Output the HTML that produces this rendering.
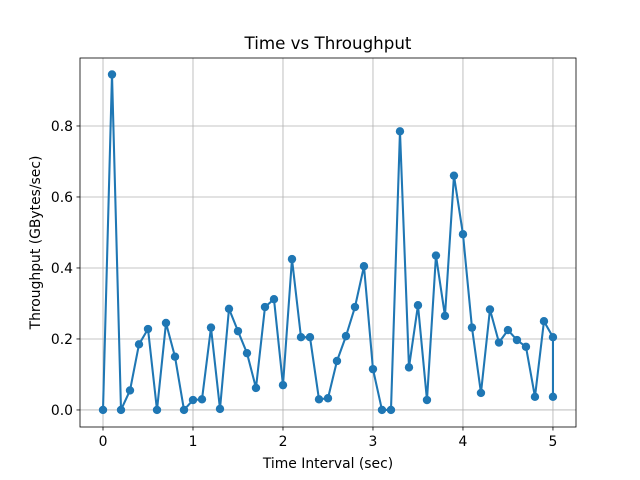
<!DOCTYPE html>
<html><head><meta charset="utf-8"><style>
body{margin:0;background:#fff;}
svg{display:block;font-family:"DejaVu Sans","Liberation Sans",sans-serif;}
</style></head><body>
<svg id="chart" width="640" height="480"></svg>
<script>
const xValues=[0,0.1,0.2,0.3,0.4,0.5,0.6,0.7,0.8,0.9,1.0,1.1,1.2,1.3,1.4,1.5,1.6,1.7,1.8,1.9,2.0,2.1,2.2,2.3,2.4,2.5,2.6,2.7,2.8,2.9,3.0,3.1,3.2,3.3,3.4,3.5,3.6,3.7,3.8,3.9,4.0,4.1,4.2,4.3,4.4,4.5,4.6,4.7,4.8,4.9,5.0,5.0];
const throughput=[0,0.945,0,0.055,0.185,0.228,0,0.245,0.15,0,0.028,0.03,0.232,0.003,0.285,0.222,0.16,0.062,0.29,0.312,0.07,0.425,0.205,0.205,0.03,0.033,0.138,0.208,0.29,0.405,0.115,0,0,0.785,0.12,0.295,0.028,0.435,0.265,0.66,0.495,0.232,0.048,0.283,0.19,0.225,0.197,0.178,0.037,0.25,0.205,0.037];
const xTicks=[0,1,2,3,4,5];
const yTicks=[0,0.2,0.4,0.6,0.8];
const yTickLabels=["0.0","0.2","0.4","0.6","0.8"];
const NS="http://www.w3.org/2000/svg";
const svg=document.getElementById('chart');
const L=80,R=576,T=58,B=427;
const xMin=-0.2556,xMax=5.256,yMin=-0.048,yMax=0.9915;
const sx=v=>L+(v-xMin)/(xMax-xMin)*(R-L);
const sy=v=>B-(v-yMin)/(yMax-yMin)*(B-T);
function mk(tag,attrs,parent){const e=document.createElementNS(NS,tag);for(const k in attrs)e.setAttribute(k,attrs[k]);(parent||svg).appendChild(e);return e;}
xTicks.forEach(t=>{
 const g=mk('line',{x1:sx(t),x2:sx(t),y1:T,y2:B,stroke:'#b0b0b0','stroke-width':0.8});
 
 
 mk('line',{x1:sx(t),x2:sx(t),y1:B,y2:B+3.5,stroke:'#000','stroke-width':0.8});
 const tx=mk('text',{x:sx(t),y:B+19,'text-anchor':'middle','font-size':13.9});
 tx.textContent=t;
 
 
});
yTicks.forEach((t,i)=>{
 const g=mk('line',{x1:L,x2:R,y1:sy(t),y2:sy(t),stroke:'#b0b0b0','stroke-width':0.8});
 
 
 mk('line',{x1:L-3.5,x2:L,y1:sy(t),y2:sy(t),stroke:'#000','stroke-width':0.8});
 const tx=mk('text',{x:L-7,y:sy(t)+5,'text-anchor':'end','font-size':13.9});
 tx.textContent=yTickLabels[i];
 
 
});
const pts=xValues.map((x,i)=>sx(x)+','+sy(throughput[i])).join(' ');
const line=mk('polyline',{points:pts,fill:'none',stroke:'#1f77b4','stroke-width':2.08,'stroke-linejoin':'round'});


xValues.forEach((x,i)=>{
 const c=mk('circle',{cx:sx(x),cy:sy(throughput[i]),r:4.2,fill:'#1f77b4'});
 
 
});
const frame=mk('rect',{x:L,y:T,width:R-L,height:B-T,fill:'none',stroke:'#000','stroke-width':0.8});


const title=mk('text',{x:(L+R)/2,y:49,'text-anchor':'middle','font-size':16.7});
title.textContent='Time vs Throughput';


const xl=mk('text',{x:(L+R)/2,y:468,'text-anchor':'middle','font-size':13.9});
xl.textContent='Time Interval (sec)';


const yl=mk('text',{x:0,y:0,'text-anchor':'middle','font-size':13.9,transform:'translate(40,'+((T+B)/2)+') rotate(-90)'});
yl.textContent='Throughput (GBytes/sec)';


</script>
</body></html>
